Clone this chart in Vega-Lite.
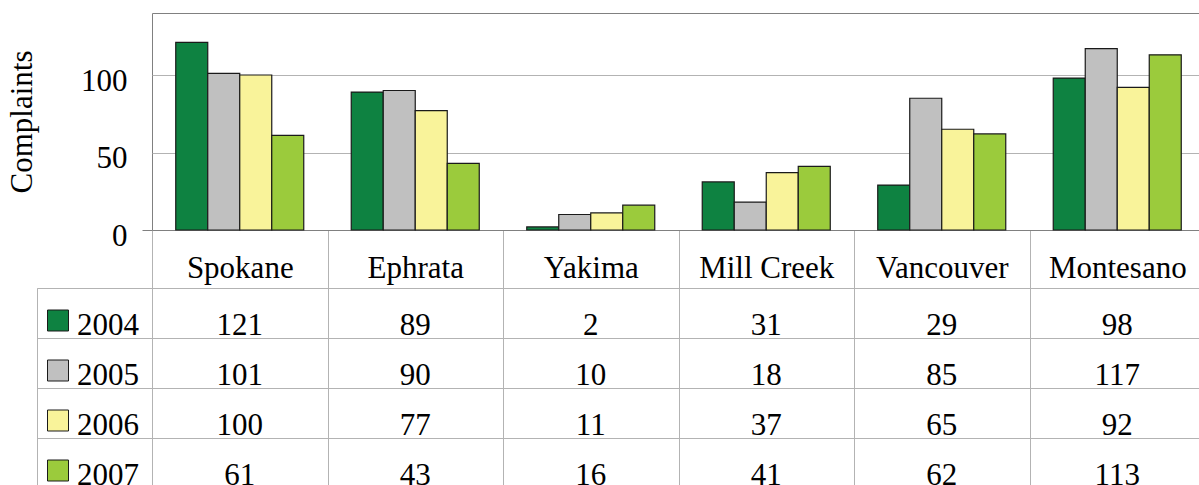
{
  "$schema": "https://vega.github.io/schema/vega-lite/v6.json",
  "autosize": {"type": "pad"},
  "padding": {"left": 6, "top": 12, "right": 0, "bottom": 0},
  "background": "white",
  "config": {
    "view": {"stroke": null},
    "font": "Liberation Serif, Times New Roman, DejaVu Serif, serif",
    "text": {"font": "Liberation Serif, Times New Roman, DejaVu Serif, serif"},
    "axis": {"labelFont": "Liberation Serif, Times New Roman, DejaVu Serif, serif", "titleFont": "Liberation Serif, Times New Roman, DejaVu Serif, serif", "labelColor": "#000000", "titleColor": "#000000"}
  },
  "datasets": {
    "complaints": [
      {"city": "Spokane", "year": "2004", "value": 121},
      {"city": "Spokane", "year": "2005", "value": 101},
      {"city": "Spokane", "year": "2006", "value": 100},
      {"city": "Spokane", "year": "2007", "value": 61},
      {"city": "Ephrata", "year": "2004", "value": 89},
      {"city": "Ephrata", "year": "2005", "value": 90},
      {"city": "Ephrata", "year": "2006", "value": 77},
      {"city": "Ephrata", "year": "2007", "value": 43},
      {"city": "Yakima", "year": "2004", "value": 2},
      {"city": "Yakima", "year": "2005", "value": 10},
      {"city": "Yakima", "year": "2006", "value": 11},
      {"city": "Yakima", "year": "2007", "value": 16},
      {"city": "Mill Creek", "year": "2004", "value": 31},
      {"city": "Mill Creek", "year": "2005", "value": 18},
      {"city": "Mill Creek", "year": "2006", "value": 37},
      {"city": "Mill Creek", "year": "2007", "value": 41},
      {"city": "Vancouver", "year": "2004", "value": 29},
      {"city": "Vancouver", "year": "2005", "value": 85},
      {"city": "Vancouver", "year": "2006", "value": 65},
      {"city": "Vancouver", "year": "2007", "value": 62},
      {"city": "Montesano", "year": "2004", "value": 98},
      {"city": "Montesano", "year": "2005", "value": 117},
      {"city": "Montesano", "year": "2006", "value": 92},
      {"city": "Montesano", "year": "2007", "value": 113}
    ]
  },
  "bounds": "flush",
  "align": "each",
  "columns": 2,
  "spacing": {"row": 58, "column": 0},
  "resolve": {"scale": {"x": "independent", "y": "independent"}},
  "concat": [
    {
      "width": 115,
      "height": 217,
      "data": {"values": []},
      "mark": "point"
    },
    {
      "width": 1053,
      "height": 217,
      "view": {"stroke": "#808080", "strokeWidth": 1},
      "data": {"name": "complaints"},
      "mark": {"type": "bar", "stroke": "#1a1a1a", "strokeWidth": 1.2},
      "encoding": {
        "x": {
          "field": "city",
          "type": "nominal",
          "sort": ["Spokane", "Ephrata", "Yakima", "Mill Creek", "Vancouver", "Montesano"],
          "scale": {"paddingInner": 0, "paddingOuter": 0},
          "axis": {
            "title": null,
            "labelAngle": 0,
            "labelFontSize": 31,
            "labelBaseline": "alphabetic",
            "labelPadding": -11,
            "tickBand": "extent",
            "tickSize": 58,
            "tickColor": "#b3b3b3",
            "tickWidth": 1,
            "domainColor": "#808080",
            "domainWidth": 1.2,
            "grid": false
          }
        },
        "xOffset": {
          "field": "year",
          "type": "nominal",
          "scale": {"paddingInner": 0, "paddingOuter": 0.742}
        },
        "y": {
          "field": "value",
          "type": "quantitative",
          "scale": {"domain": [0, 140], "nice": false},
          "axis": {
            "values": [0, 50, 100],
            "title": "Complaints",
            "titleFontSize": 31,
            "titleFontWeight": "normal",
            "titlePadding": 42,
            "labelFontSize": 31,
            "labelPadding": 15,
            "labelOffset": 6,
            "labelBaseline": "middle",
            "tickSize": 10,
            "tickColor": "#808080",
            "tickOpacity": {"condition": {"test": "datum.value == 0", "value": 1}, "value": 0},
            "domain": false,
            "grid": true,
            "gridColor": "#b3b3b3",
            "gridWidth": 1
          }
        },
        "color": {
          "field": "year",
          "type": "nominal",
          "scale": {"domain": ["2004", "2005", "2006", "2007"], "range": ["#0e8241", "#c0c0c0", "#f9f39a", "#9bcb3c"]},
          "legend": null
        }
      }
    },
    {
      "width": 115,
      "height": 200,
      "view": {"stroke": "#b3b3b3", "strokeWidth": 1},
      "data": {"name": "complaints"},
      "transform": [{"aggregate": [], "groupby": ["year"]}],
      "layer": [
        {
          "mark": {"type": "square", "size": 441, "filled": true, "opacity": 1, "stroke": "#1a1a1a", "strokeWidth": 1},
          "encoding": {
            "x": {
              "datum": "swatch",
              "type": "nominal",
              "scale": {"type": "point", "domain": ["swatch", "label"], "padding": 0.21, "align": 0.6176},
              "axis": null
            },
            "y": {
              "field": "year",
              "type": "nominal",
              "bandPosition": 0.65,
              "scale": {"paddingInner": 0, "paddingOuter": 0},
              "axis": {"title": null, "labels": false, "ticks": false, "domain": false, "grid": true, "tickBand": "extent", "gridColor": "#b3b3b3"}
            },
            "color": {"field": "year", "type": "nominal", "legend": null}
          }
        },
        {
          "mark": {"type": "text", "align": "right", "baseline": "alphabetic", "fontSize": 31},
          "encoding": {
            "x": {"datum": "label", "type": "nominal"},
            "y": {"field": "year", "type": "nominal", "bandPosition": 0.93},
            "text": {"field": "year"}
          }
        }
      ]
    },
    {
      "width": 1053,
      "height": 200,
      "view": {"stroke": "#b3b3b3", "strokeWidth": 1},
      "data": {"name": "complaints"},
      "mark": {"type": "text", "align": "center", "baseline": "alphabetic", "fontSize": 31},
      "encoding": {
        "x": {
          "field": "city",
          "type": "nominal",
          "sort": ["Spokane", "Ephrata", "Yakima", "Mill Creek", "Vancouver", "Montesano"],
          "scale": {"paddingInner": 0, "paddingOuter": 0},
          "axis": {"title": null, "labels": false, "ticks": false, "domain": false, "grid": true, "tickBand": "extent", "gridColor": "#b3b3b3"}
        },
        "y": {
          "field": "year",
          "type": "nominal",
          "bandPosition": 0.93,
          "scale": {"paddingInner": 0, "paddingOuter": 0},
          "axis": {"title": null, "labels": false, "ticks": false, "domain": false, "grid": true, "tickBand": "extent", "gridColor": "#b3b3b3"}
        },
        "text": {"field": "value", "type": "quantitative"}
      }
    }
  ]
}
